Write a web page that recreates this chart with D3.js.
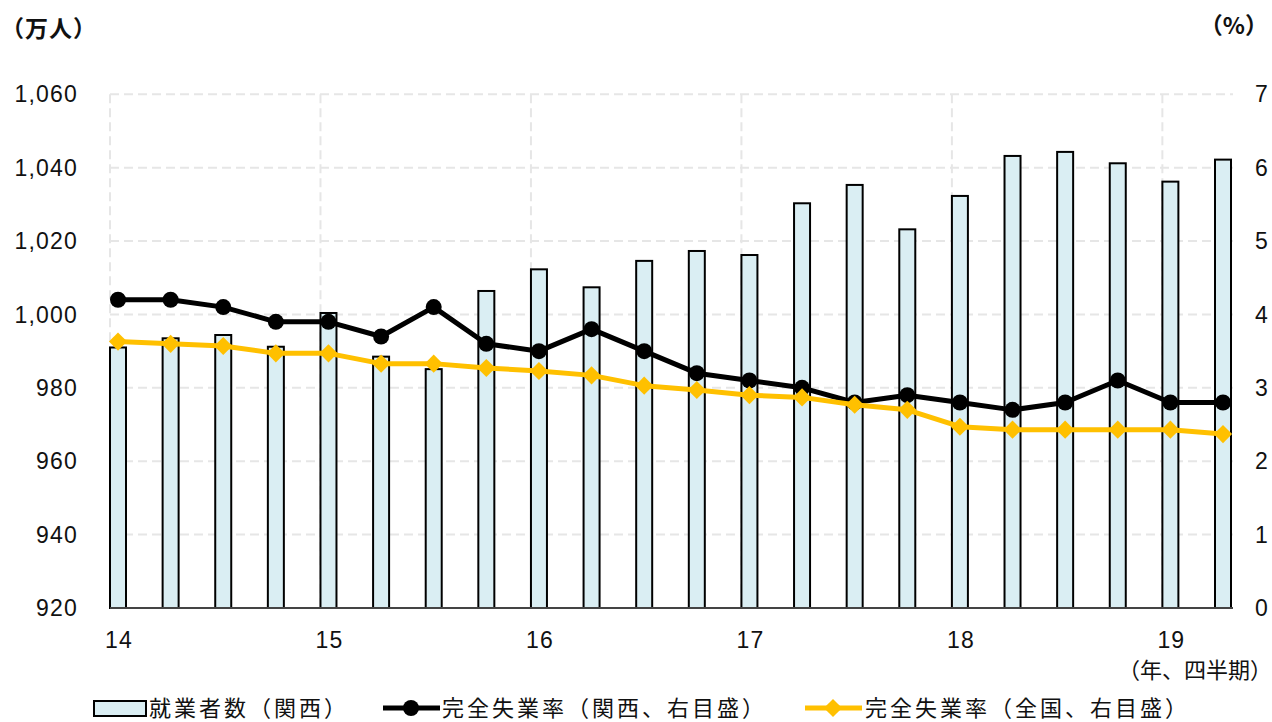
<!DOCTYPE html>
<html>
<head>
<meta charset="utf-8">
<script src="https://cdn.jsdelivr.net/npm/d3@7"></script>
<style>
  html, body { margin: 0; padding: 0; background: #fff; }
  svg { display: block; }
  .num { font-family: "Liberation Sans", Arial, sans-serif; font-size: 23px; letter-spacing: 1.2px; fill: #111; }
  .jp { font-family: "Noto Sans CJK JP", "Noto Sans", sans-serif; fill: #111; }
</style>
</head>
<body>
<svg id="chart" width="1272" height="722"></svg>
<script>
// Quarters 2014Q1 – 2019Q2
const quarters = ["14Q1","14Q2","14Q3","14Q4","15Q1","15Q2","15Q3","15Q4",
                  "16Q1","16Q2","16Q3","16Q4","17Q1","17Q2","17Q3","17Q4",
                  "18Q1","18Q2","18Q3","18Q4","19Q1","19Q2"];
// Employed persons, Kansai (10,000 persons)
const employedKansai = [991, 993.5, 994.4, 991.2, 1000.4, 988.5, 985.1, 1006.4,
                        1012.3, 1007.4, 1014.6, 1017.3, 1016.2, 1030.3, 1035.3, 1023.2,
                        1032.3, 1043.2, 1044.3, 1041.2, 1036.2, 1042.2];
// Unemployment rate, Kansai (%)
const unempKansai = [4.2, 4.2, 4.1, 3.9, 3.9, 3.7, 4.1, 3.6,
                     3.5, 3.8, 3.5, 3.2, 3.1, 3.0, 2.8, 2.9,
                     2.8, 2.7, 2.8, 3.1, 2.8, 2.8];
// Unemployment rate, Japan (%)
const unempJapan = [3.63, 3.6, 3.57, 3.47, 3.47, 3.33, 3.33, 3.27,
                    3.23, 3.17, 3.03, 2.97, 2.9, 2.87, 2.77, 2.7,
                    2.47, 2.43, 2.43, 2.43, 2.43, 2.37];
const leftTicks = [920, 940, 960, 980, 1000, 1020, 1040, 1060];
const rightTicks = [0, 1, 2, 3, 4, 5, 6, 7];
const yearLabels = ["14", "15", "16", "17", "18", "19"];
const legendLabels = ["就業者数（関西）", "完全失業率（関西、右目盛）", "完全失業率（全国、右目盛）"];

const svg = d3.select("#chart");
const plotTop = 94.3, plotBottom = 608, plotLeft = 110, plotRight = 1233;
const barW = 16;

const x = d3.scalePoint().domain(quarters).range([118, 1223]);
const yL = d3.scaleLinear().domain([920, 1060]).range([plotBottom, plotTop]);
const yR = d3.scaleLinear().domain([0, 7]).range([plotBottom, plotTop]);

const gridColor = "#e6e6e6";
// horizontal grid
svg.append("g").selectAll("line").data(leftTicks.slice(1)).join("line")
  .attr("x1", plotLeft).attr("x2", plotRight)
  .attr("y1", d => yL(d)).attr("y2", d => yL(d))
  .attr("stroke", gridColor).attr("stroke-width", 2).attr("stroke-dasharray", "9,5");
// vertical grid at each year start
const yearStarts = quarters.filter(q => q.endsWith("Q1"));
svg.append("g").selectAll("line").data(yearStarts).join("line")
  .attr("x1", d => x(d) - barW / 2).attr("x2", d => x(d) - barW / 2)
  .attr("y1", plotTop).attr("y2", plotBottom)
  .attr("stroke", gridColor).attr("stroke-width", 2).attr("stroke-dasharray", "9,5");

// bars
svg.append("g").selectAll("rect").data(employedKansai).join("rect")
  .attr("x", (d, i) => x(quarters[i]) - barW / 2)
  .attr("y", d => yL(d))
  .attr("width", barW)
  .attr("height", d => plotBottom - yL(d))
  .attr("fill", "#DAEEF3").attr("stroke", "#000").attr("stroke-width", 2);

// baseline
svg.append("line").attr("x1", plotLeft).attr("x2", plotRight)
  .attr("y1", plotBottom).attr("y2", plotBottom)
  .attr("stroke", "#444").attr("stroke-width", 2);

// Kansai unemployment line
const lineK = d3.line().x((d, i) => x(quarters[i])).y(d => yR(d));
svg.append("path").datum(unempKansai).attr("d", lineK)
  .attr("fill", "none").attr("stroke", "#000").attr("stroke-width", 5)
  .attr("stroke-linejoin", "round");
svg.append("g").selectAll("circle").data(unempKansai).join("circle")
  .attr("cx", (d, i) => x(quarters[i])).attr("cy", d => yR(d)).attr("r", 8)
  .attr("fill", "#000");

// Japan unemployment line
const yellow = "#FFC000";
svg.append("path").datum(unempJapan).attr("d", lineK)
  .attr("fill", "none").attr("stroke", yellow).attr("stroke-width", 5)
  .attr("stroke-linejoin", "round");
const diamond = d3.symbol().type(d3.symbolDiamond2).size(210);
svg.append("g").selectAll("path").data(unempJapan).join("path")
  .attr("d", diamond)
  .attr("transform", (d, i) => `translate(${x(quarters[i])},${yR(d)})`)
  .attr("fill", yellow);

// left axis labels
svg.append("g").selectAll("text").data(leftTicks).join("text")
  .attr("class", "num").attr("x", 78).attr("y", d => yL(d)).attr("dy", "0.35em")
  .attr("text-anchor", "end").text(d => d3.format(",")(d));
// right axis labels
svg.append("g").selectAll("text").data(rightTicks).join("text")
  .attr("class", "num").attr("x", 1255).attr("y", d => yR(d)).attr("dy", "0.35em")
  .attr("text-anchor", "start").text(d => d);
// x labels
svg.append("g").selectAll("text").data(yearStarts).join("text")
  .attr("class", "num").attr("x", d => x(d) + 1).attr("y", 648)
  .attr("text-anchor", "middle").text((d, i) => yearLabels[i]);

// unit labels
svg.append("text").attr("class", "jp").attr("x", 1).attr("y", 37)
  .attr("font-size", 23).attr("font-weight", "bold").attr("letter-spacing", "1px").text("（万人）");
svg.append("text").attr("class", "jp").attr("x", 1268).attr("y", 34)
  .attr("text-anchor", "end").attr("font-size", 23).attr("font-weight", "bold").text("（%）");
svg.append("text").attr("class", "jp").attr("x", 1272).attr("y", 678)
  .attr("text-anchor", "end").attr("font-size", 22).text("（年、四半期）");

// legend
const lg = svg.append("g");
const ly = 708;
lg.append("rect").attr("x", 94).attr("y", 701).attr("width", 52).attr("height", 15)
  .attr("fill", "#DAEEF3").attr("stroke", "#000").attr("stroke-width", 2);
lg.append("line").attr("x1", 383).attr("x2", 440).attr("y1", ly).attr("y2", ly)
  .attr("stroke", "#000").attr("stroke-width", 5);
lg.append("circle").attr("cx", 411).attr("cy", ly).attr("r", 8).attr("fill", "#000");
lg.append("line").attr("x1", 805).attr("x2", 862).attr("y1", ly).attr("y2", ly)
  .attr("stroke", yellow).attr("stroke-width", 5);
lg.append("path").attr("d", diamond).attr("transform", `translate(833,${ly})`).attr("fill", yellow);
const legendX = [149, 442, 865];
lg.selectAll("text.lt").data(legendLabels).join("text")
  .attr("class", "jp lt").attr("x", (d, i) => legendX[i]).attr("y", ly).attr("dy", "0.36em")
  .attr("font-size", 22).attr("letter-spacing", "3px").text(d => d);
</script>
</body>
</html>
